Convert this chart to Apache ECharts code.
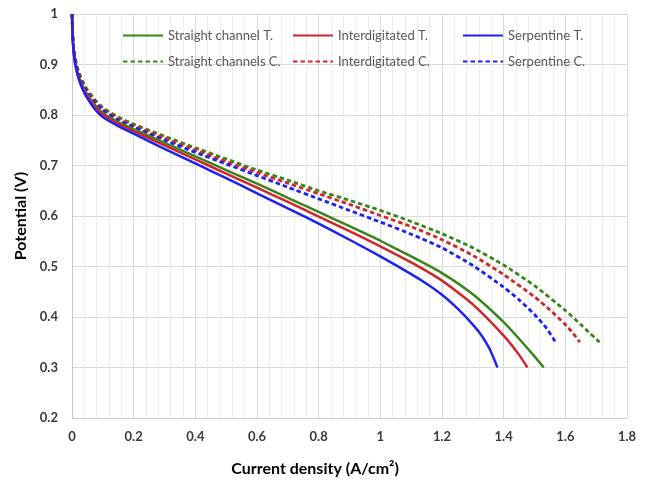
<!DOCTYPE html>
<html>
<head>
<meta charset="utf-8">
<script src="https://cdn.jsdelivr.net/npm/echarts@6/dist/echarts.min.js"></script>
<style>
html,body{margin:0;padding:0;background:#fff;}
#chart{width:648px;height:485px;}
</style>
</head>
<body>
<div id="chart"></div>
<script>
// ---- data ----
const seriesNames = ["Straight channel T.", "Interdigitated T.", "Serpentine T.",
                     "Straight channels C.", "Interdigitated C.", "Serpentine C."];

const straightT_x = [0,0.002,0.005,0.01,0.02,0.035,0.05,0.075,0.1,0.15,0.2,0.3,0.4,0.5,0.6,0.7,0.8,0.9,1.0,1.1,1.2,1.3,1.4,1.45,1.5,1.53];
const straightT_y = [1.0,0.96,0.932,0.907,0.881,0.857,0.84,0.819,0.804,0.786,0.772,0.745,0.718,0.691,0.664,0.636,0.608,0.58,0.551,0.52,0.487,0.445,0.39,0.357,0.322,0.30];

const interT_x = [0,0.002,0.005,0.01,0.02,0.035,0.05,0.075,0.1,0.15,0.2,0.3,0.4,0.5,0.6,0.7,0.8,0.9,1.0,1.1,1.2,1.3,1.4,1.45,1.477];
const interT_y = [1.0,0.958,0.93,0.905,0.878,0.854,0.837,0.816,0.801,0.783,0.768,0.74,0.712,0.684,0.656,0.628,0.599,0.57,0.54,0.508,0.472,0.425,0.363,0.325,0.30];

const serpT_x = [0,0.002,0.005,0.01,0.02,0.035,0.05,0.075,0.1,0.15,0.2,0.3,0.4,0.5,0.6,0.7,0.8,0.9,1.0,1.1,1.15,1.2,1.25,1.3,1.33,1.355,1.38];
const serpT_y = [1.0,0.955,0.927,0.902,0.875,0.85,0.833,0.811,0.796,0.778,0.763,0.733,0.704,0.675,0.645,0.615,0.585,0.553,0.52,0.485,0.466,0.444,0.417,0.385,0.362,0.336,0.30];

const straightC_x = [0,0.002,0.005,0.01,0.02,0.035,0.05,0.075,0.1,0.15,0.2,0.3,0.4,0.5,0.6,0.7,0.8,0.9,1.0,1.1,1.2,1.3,1.4,1.5,1.6,1.65,1.711];
const straightC_y = [1.0,0.965,0.938,0.914,0.889,0.866,0.85,0.83,0.815,0.796,0.782,0.758,0.735,0.713,0.691,0.671,0.65,0.631,0.611,0.589,0.565,0.537,0.503,0.462,0.413,0.385,0.35];

const interC_x = [0,0.002,0.005,0.01,0.02,0.035,0.05,0.075,0.1,0.15,0.2,0.3,0.4,0.5,0.6,0.7,0.8,0.9,1.0,1.1,1.2,1.3,1.4,1.5,1.55,1.6,1.625,1.647];
const interC_y = [1.0,0.963,0.936,0.912,0.886,0.863,0.847,0.827,0.812,0.793,0.779,0.754,0.731,0.708,0.686,0.665,0.644,0.623,0.601,0.579,0.553,0.522,0.484,0.44,0.414,0.385,0.368,0.35];

const serpC_x = [0,0.002,0.005,0.01,0.02,0.035,0.05,0.075,0.1,0.15,0.2,0.3,0.4,0.5,0.6,0.7,0.8,0.9,1.0,1.1,1.2,1.3,1.4,1.45,1.5,1.54,1.568];
const serpC_y = [1.0,0.961,0.934,0.909,0.883,0.86,0.844,0.824,0.809,0.79,0.776,0.75,0.726,0.703,0.68,0.657,0.634,0.611,0.588,0.564,0.537,0.502,0.459,0.434,0.405,0.377,0.35];

const xTicks = [0,0.2,0.4,0.6,0.8,1,1.2,1.4,1.6,1.8];
const yTicks = [0.2,0.3,0.4,0.5,0.6,0.7,0.8,0.9,1];

// ---- build ----
const colors = ["#3a8419", "#d0262a", "#1e22f0"];
const xs = [straightT_x, interT_x, serpT_x, straightC_x, interC_x, serpC_x];
const ys = [straightT_y, interT_y, serpT_y, straightC_y, interC_y, serpC_y];

const series = seriesNames.map((name, i) => ({
  name: name,
  type: 'line',
  data: xs[i].map((x, k) => [x, ys[i][k]]),
  symbol: 'none',
  showSymbol: false,
  smooth: 0.2,
  lineStyle: {
    color: colors[i % 3],
    width: i < 3 ? 2.5 : 2.8,
    type: i < 3 ? 'solid' : [4.5, 3]
  },
  itemStyle: { color: colors[i % 3] },
  z: i < 3 ? 3 : 2
}));

const legendLeft = [122, 292, 462];
const legendTop = [29, 55];
const legends = seriesNames.map((name, i) => ({
  data: [name],
  left: legendLeft[i % 3],
  top: legendTop[Math.floor(i / 3)],
  padding: 0,
  itemWidth: 40,
  itemHeight: 14,
  itemGap: 6,
  itemStyle: { opacity: 0 },
  textStyle: { fontFamily: 'Lato', fontSize: 13, color: '#595959' }
}));

const chart = echarts.init(document.getElementById('chart'), null, { renderer: 'canvas' });
chart.setOption({
  animation: false,
  backgroundColor: '#ffffff',
  legend: legends,
  grid: { left: 72, right: 21, top: 14, bottom: 67, containLabel: false },
  xAxis: {
    type: 'value',
    min: xTicks[0],
    max: xTicks[xTicks.length - 1],
    interval: 0.2,
    axisLine: { show: true, lineStyle: { color: '#c8c8c8', width: 1 } },
    axisTick: { show: false },
    axisLabel: {
      margin: 12,
      fontFamily: 'Lato', fontWeight: 'bold', fontSize: 13, color: '#3a3a3a',
      formatter: v => String(Math.round(v * 10) / 10)
    },
    splitLine: { show: true, lineStyle: { color: '#d9d9d9', width: 1 } },
    minorTick: { show: false, splitNumber: 5 },
    minorSplitLine: { show: true, lineStyle: { color: '#ededed', width: 1 } }
  },
  yAxis: {
    type: 'value',
    min: yTicks[0],
    max: yTicks[yTicks.length - 1],
    interval: 0.1,
    name: 'Potential (V)',
    nameLocation: 'middle',
    nameRotate: 90,
    nameGap: 42,
    nameTextStyle: { fontFamily: 'Lato', fontWeight: 'bold', fontSize: 16, color: '#000' },
    axisLine: { show: true, lineStyle: { color: '#c8c8c8', width: 1 } },
    axisTick: { show: false },
    axisLabel: {
      margin: 14,
      fontFamily: 'Lato', fontWeight: 'bold', fontSize: 13, color: '#3a3a3a',
      formatter: v => String(Math.round(v * 10) / 10)
    },
    splitLine: { show: true, lineStyle: { color: '#d9d9d9', width: 1 } }
  },
  graphic: [{
    type: 'text',
    x: 315, y: 469,
    style: {
      text: 'Current density (A/cm²)',
      font: 'bold 16px Lato',
      fill: '#000',
      align: 'center',
      verticalAlign: 'middle'
    }
  }],
  series: series
});
</script>
</body>
</html>
